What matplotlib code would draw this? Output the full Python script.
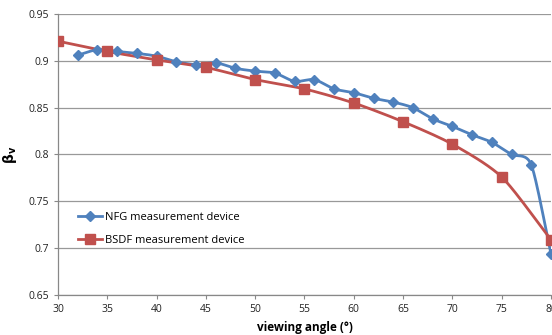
import numpy as np
import matplotlib
matplotlib.use("Agg")
import matplotlib.pyplot as plt

plt.rcParams['font.family'] = ['Open Sans', 'DejaVu Sans']

# NFG measurement device (every 2 degrees)
nfg_angle = [32, 34, 36, 38, 40, 42, 44, 46, 48, 50, 52, 54, 56, 58, 60,
             62, 64, 66, 68, 70, 72, 74, 76, 78, 80]
nfg_beta = [0.906, 0.912, 0.910, 0.908, 0.905, 0.899, 0.896, 0.898, 0.892,
            0.889, 0.887, 0.878, 0.880, 0.870, 0.866, 0.860, 0.856, 0.850,
            0.838, 0.830, 0.821, 0.813, 0.800, 0.789, 0.694]

# BSDF measurement device (every 5 degrees)
bsdf_angle = [30, 35, 40, 45, 50, 55, 60, 65, 70, 75, 80]
bsdf_beta = [0.921, 0.910, 0.901, 0.893, 0.880, 0.870, 0.855, 0.835,
             0.811, 0.776, 0.709]

x_ticks = [30, 35, 40, 45, 50, 55, 60, 65, 70, 75, 80]
y_ticks = [0.65, 0.7, 0.75, 0.8, 0.85, 0.9, 0.95]

BLUE = "#4F81BD"
RED = "#C0504D"


def smooth(x, y, n=20, k=8.0):
    # bezier smoothing through the points, like Excel's "smoothed line"
    x = np.asarray(x, float)
    y = np.asarray(y, float)
    px = np.concatenate([[2 * x[0] - x[1]], x, [2 * x[-1] - x[-2]]])
    py = np.concatenate([[2 * y[0] - y[1]], y, [2 * y[-1] - y[-2]]])
    xs, ys = [], []
    t = np.linspace(0, 1, n, endpoint=False)
    for i in range(1, len(px) - 2):
        p0x, p1x, p2x, p3x = px[i - 1:i + 3]
        p0y, p1y, p2y, p3y = py[i - 1:i + 3]
        c1x = p1x + (p2x - p0x) / k
        c1y = p1y + (p2y - p0y) / k
        c2x = p2x - (p3x - p1x) / k
        c2y = p2y - (p3y - p1y) / k
        bx = (1 - t) ** 3 * p1x + 3 * (1 - t) ** 2 * t * c1x + 3 * (1 - t) * t ** 2 * c2x + t ** 3 * p2x
        by = (1 - t) ** 3 * p1y + 3 * (1 - t) ** 2 * t * c1y + 3 * (1 - t) * t ** 2 * c2y + t ** 3 * p2y
        xs.extend(bx)
        ys.extend(by)
    xs.append(x[-1])
    ys.append(y[-1])
    return np.array(xs), np.array(ys)


fig = plt.figure(figsize=(5.52, 3.35), dpi=100)
ax = fig.add_axes([58 / 552, 40 / 335, 493 / 552, 281 / 335])

sx, sy = smooth(nfg_angle, nfg_beta)
ax.plot(sx, sy, color=BLUE, lw=2.0, zorder=3)
ax.plot(nfg_angle, nfg_beta, ls="none", marker="D", ms=4.8, color=BLUE, zorder=4)
ax.plot([], [], color=BLUE, lw=2.0, marker="D", ms=4.8, label="NFG measurement device")

sx, sy = smooth(bsdf_angle, bsdf_beta)
ax.plot(sx, sy, color=RED, lw=2.0, zorder=3)
ax.plot(bsdf_angle, bsdf_beta, ls="none", marker="s", ms=6.5, color=RED, zorder=4)
ax.plot([], [], color=RED, lw=2.0, marker="s", ms=6.5, label="BSDF measurement device")

ax.set_xlim(30, 80)
ax.set_ylim(0.65, 0.95)
ax.set_xticks(x_ticks)
ax.set_yticks(y_ticks)
ax.set_yticklabels([f"{v:g}" for v in y_ticks])
ax.tick_params(labelsize=7.5, colors="#888888", labelcolor="#222222", length=3, width=0.8)
ax.yaxis.grid(True, color="#999999", lw=0.9)
ax.set_axisbelow(True)
for s in ["top", "right"]:
    ax.spines[s].set_visible(False)
for s in ["left", "bottom"]:
    ax.spines[s].set_color("#888888")
    ax.spines[s].set_linewidth(0.9)

ax.set_xlabel("viewing angle (°)", fontsize=8.5, fontweight="bold", labelpad=4)
ax.set_ylabel(r"$\mathbf{\beta_v}$", fontsize=10, labelpad=7)

ax.legend(loc="lower left", bbox_to_anchor=(0.02, 0.14), frameon=False,
          fontsize=8, handlelength=2.2, handletextpad=0.2, labelspacing=1.05)

fig.savefig("out.png", dpi=100)
